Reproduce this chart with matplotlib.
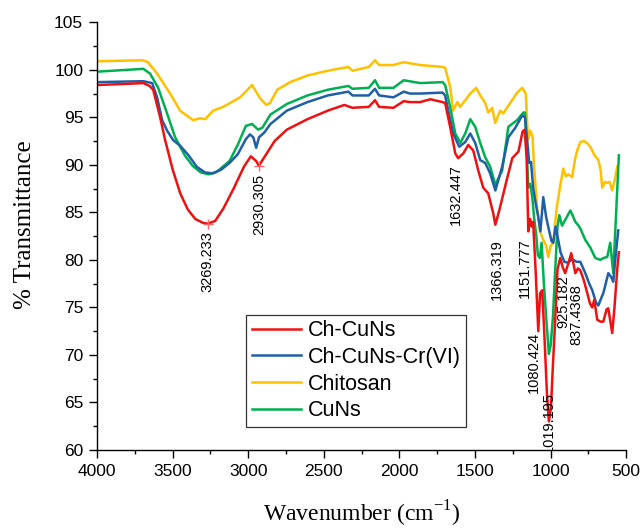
import matplotlib
matplotlib.use('Agg')
import matplotlib.pyplot as plt
import matplotlib.ticker as mticker

# FTIR spectra (wavenumber, % transmittance)
red_wn = [4000, 3829, 3694, 3653, 3629, 3583, 3550, 3500, 3450, 3400, 3350, 3300, 3269, 3219, 3165,
          3097, 3029, 2983, 2948, 2930, 2894, 2826, 2745, 2609, 2474, 2365, 2311, 2203, 2162, 2135,
          2040, 1972, 1932, 1863, 1796, 1715, 1698, 1665, 1631, 1612, 1578, 1545, 1512, 1479, 1446,
          1413, 1380, 1366, 1340, 1294, 1254, 1213, 1186, 1172, 1159, 1148, 1136, 1125, 1116, 1100,
          1082, 1070, 1056, 1040, 1025, 1012, 998, 985, 970, 955, 937, 920, 904, 880, 864, 848, 837,
          820, 804, 780, 758, 740, 725, 712, 692, 670, 652, 630, 619, 605, 593, 578, 560, 549]
red_t = [98.4, 98.5, 98.6, 98.3, 97.9, 95.0, 92.6, 89.5, 87.0, 85.3, 84.3, 83.9, 83.8, 84.1, 85.4,
         87.5, 89.8, 90.9, 90.4, 89.9, 90.8, 92.5, 93.7, 94.8, 95.7, 96.3, 96.0, 96.1, 96.8, 96.1,
         96.0, 96.7, 96.6, 96.6, 96.9, 96.6, 96.5, 94.0, 91.2, 90.7, 91.2, 92.1, 91.5, 89.4, 87.6,
         87.0, 84.9, 83.7, 85.2, 88.2, 90.7, 91.4, 93.5, 93.7, 90.7, 83.0, 84.3, 83.5, 84.0, 79.0,
         72.5, 76.5, 76.8, 71.5, 66.0, 63.0, 64.5, 69.0, 73.7, 79.0, 80.2, 79.2, 78.6, 79.8, 80.7,
         79.5, 78.6, 79.1, 78.9, 77.8, 76.5, 75.4, 75.0, 75.8, 73.7, 73.5, 73.5, 74.8, 74.9, 73.5,
         72.3, 75.0, 79.0, 80.8]

blue_wn = [4000, 3694, 3636, 3603, 3570, 3537, 3497, 3450, 3395, 3341, 3287, 3233, 3179, 3124, 3070,
           3016, 2989, 2967, 2948, 2929, 2894, 2853, 2745, 2609, 2474, 2338, 2311, 2203, 2162, 2135,
           2040, 1972, 1932, 1863, 1715, 1698, 1678, 1645, 1605, 1565, 1532, 1499, 1466, 1433, 1400,
           1366, 1321, 1280, 1234, 1188, 1170, 1155, 1142, 1130, 1116, 1100, 1082, 1068, 1049, 1030,
           1015, 995, 983, 968, 955, 935, 910, 884, 865, 850, 830, 804, 771, 745, 725, 700, 685, 665,
           652, 636, 619, 600, 586, 570, 553]
blue_t = [98.7, 98.8, 98.6, 97.1, 94.7, 93.6, 92.6, 92.0, 91.0, 89.8, 89.2, 89.1, 89.5, 90.2, 91.1,
          92.7, 93.2, 92.9, 91.8, 92.9, 93.4, 94.3, 95.7, 96.6, 97.3, 97.7, 97.3, 97.3, 98.0, 97.3,
          97.1, 97.7, 97.5, 97.5, 97.6, 97.3, 95.7, 93.3, 91.9, 92.4, 93.3, 92.3, 90.5, 90.2, 89.1,
          87.3, 89.8, 92.9, 93.9, 95.2, 95.0, 92.5, 90.2, 90.3, 87.6, 86.0, 84.5, 83.0, 86.6, 84.5,
          83.4, 82.0, 81.8, 83.5, 82.5, 80.8, 79.8, 79.7, 80.0, 80.0, 79.8, 79.8, 78.6, 77.5, 76.8,
          75.5, 75.2, 76.0, 76.5, 77.5, 78.6, 78.2, 77.7, 80.5, 83.1]

yellow_wn = [4000, 3700, 3663, 3603, 3517, 3451, 3365, 3318, 3285, 3233, 3166, 3054, 2975, 2922, 2880,
             2856, 2809, 2723, 2609, 2474, 2338, 2311, 2203, 2162, 2135, 2040, 1972, 1863, 1715, 1698,
             1665, 1645, 1618, 1598, 1565, 1532, 1492, 1466, 1433, 1413, 1387, 1367, 1334, 1314, 1268,
             1222, 1188, 1165, 1150, 1135, 1120, 1110, 1090, 1070, 1049, 1030, 1016, 1000, 983, 960,
             940, 917, 900, 884, 858, 840, 825, 804, 780, 760, 738, 710, 685, 670, 659, 640, 626, 610,
             593, 575, 560]
yellow_t = [100.9, 101.0, 100.8, 99.6, 97.5, 95.7, 94.7, 94.9, 94.8, 95.7, 96.1, 97.1, 98.4, 97.0, 96.3,
            96.5, 97.9, 98.7, 99.4, 99.9, 100.3, 99.9, 100.3, 101.0, 100.5, 100.5, 100.8, 100.5, 100.3, 100.2,
            98.2, 95.7, 96.6, 96.1, 96.8, 97.5, 98.1, 97.3, 96.5, 95.5, 96.0, 94.4, 95.7, 95.4, 96.5,
            97.6, 98.1, 97.5, 92.6, 93.6, 93.0, 89.8, 85.5, 83.0, 82.1, 81.5, 80.3, 81.5, 81.8, 85.5,
            87.5, 89.6, 88.8, 89.0, 88.7, 90.5, 91.5, 92.4, 92.5, 92.3, 91.9, 91.0, 90.5, 89.5, 87.6,
            88.2, 88.1, 88.2, 87.3, 88.5, 89.8]

green_wn = [4000, 3694, 3650, 3596, 3537, 3484, 3420, 3368, 3314, 3260, 3206, 3124, 3070, 3016, 2975,
            2935, 2907, 2853, 2745, 2609, 2474, 2338, 2311, 2203, 2162, 2135, 2040, 1972, 1863, 1715,
            1698, 1665, 1631, 1598, 1565, 1532, 1499, 1466, 1433, 1400, 1366, 1321, 1280, 1222, 1181,
            1170, 1160, 1148, 1135, 1122, 1110, 1095, 1085, 1072, 1060, 1045, 1030, 1012, 1000, 985,
            970, 955, 943, 925, 904, 870, 850, 837, 820, 804, 771, 738, 705, 672, 650, 626, 606, 595,
            586, 570, 549]
green_t = [99.8, 100.1, 99.6, 98.1, 95.4, 92.9, 91.0, 89.9, 89.2, 89.0, 89.3, 90.4, 92.1, 94.1, 94.3,
           93.7, 93.9, 95.3, 96.4, 97.3, 97.9, 98.3, 98.0, 98.1, 98.9, 98.1, 98.1, 98.9, 98.6, 98.7,
           98.4, 96.1, 93.3, 92.3, 93.3, 94.8, 94.0, 92.3, 90.8, 89.8, 87.9, 89.4, 94.0, 94.7, 95.5,
           95.5, 92.0, 87.6, 88.0, 86.6, 84.5, 82.5, 80.5, 80.2, 81.8, 77.5, 74.0, 70.1, 71.0, 74.0,
           79.0, 83.5, 84.7, 83.6, 84.2, 85.2, 84.5, 84.0, 83.7, 83.3, 82.1, 81.3, 80.2, 80.0, 80.2,
           80.3, 81.8, 80.0, 78.6, 84.0, 91.0]

series_names = ['Ch-CuNs', 'Ch-CuNs-Cr(VI)', 'Chitosan', 'CuNs']
series_colors = ['#ee1111', '#1f5fa8', '#ffc000', '#00b050']

# peak labels (text, x position of the label, top of the label in % T)
annot_text = ['3269.233', '2930.305', '1632.447', '1366.319', '1151.777', '1080.424',
              '1019.195', '925.182', '837.4368']
annot_x = [3269, 2930, 1628, 1357, 1172, 1110, 1010, 915, 833]
annot_top = [83.0, 89.0, 90.1, 82.2, 82.3, 72.4, 66.1, 78.4, 77.4]
mark_x = [3269.233, 2930.305]
mark_y = [83.8, 89.9]

plt.rcParams['font.family'] = 'Liberation Sans'
plt.rcParams['axes.spines.top'] = False
plt.rcParams['axes.spines.right'] = False

fig = plt.figure(figsize=(6.43, 5.30), dpi=100)
ax = fig.add_axes([0.151, 0.151, 0.823, 0.807])

data = [(red_wn, red_t), (blue_wn, blue_t), (yellow_wn, yellow_t), (green_wn, green_t)]
order = [2, 3, 1, 0]  # draw chitosan first, red on top
lines = {}
for i in order:
    wn, t = data[i]
    lines[i], = ax.plot(wn, t, color=series_colors[i], lw=1.8, label=series_names[i])

ax.plot(mark_x, mark_y, '+', color='#ff6666', ms=7, mew=1)

for txt, x, y in zip(annot_text, annot_x, annot_top):
    ax.text(x, y, txt, rotation=90, ha='center', va='top', fontsize=10.5, clip_on=True)

ax.set_xlim(4000, 500)
ax.set_ylim(60, 105)
ax.xaxis.set_major_locator(mticker.MultipleLocator(500))
ax.xaxis.set_minor_locator(mticker.MultipleLocator(250))
ax.yaxis.set_major_locator(mticker.MultipleLocator(5))
ax.yaxis.set_minor_locator(mticker.MultipleLocator(2.5))
ax.tick_params(which='major', direction='out', length=6, width=1, labelsize=12.5, pad=4)
ax.tick_params(which='minor', direction='out', length=3, width=1)
for s in ['left', 'bottom']:
    ax.spines[s].set_linewidth(1)

ax.set_ylabel('% Transmittance', family='Liberation Serif', fontsize=18)
ax.yaxis.set_label_coords(-0.115, 0.526)
ax.set_xlabel('Wavenumber (cm$^{\\mathregular{-1}}$)', family='Liberation Serif', fontsize=17, labelpad=14)

leg = ax.legend([lines[i] for i in range(4)], series_names, loc='lower left',
                bbox_to_anchor=(0.282, 0.054), borderaxespad=0, fontsize=15.5,
                fancybox=False, edgecolor='#333333', framealpha=1, handlelength=2.3,
                handletextpad=0.3, borderpad=0.25, labelspacing=0.27)
leg.get_frame().set_linewidth(0.9)

plt.savefig('out.png', dpi=100)
